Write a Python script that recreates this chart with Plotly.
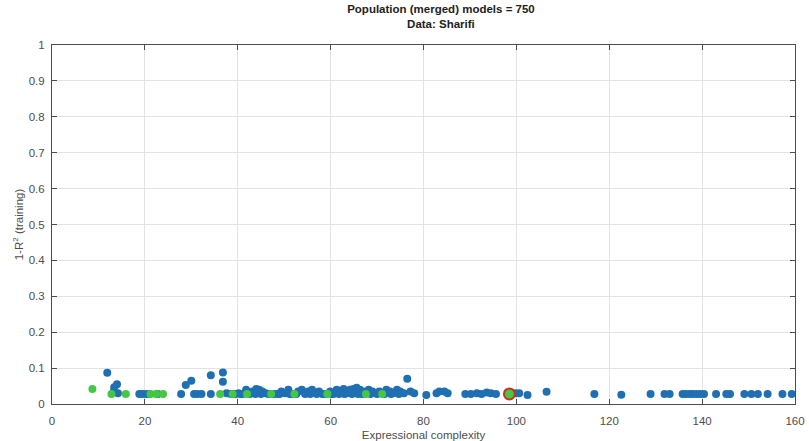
import plotly.graph_objects as go

# Population models: expressional complexity vs 1-R^2 (training)
blue_x = [11.9, 13.3, 13.4, 14.0, 14.2, 18.8, 19.5, 20.3, 21.0, 22.8,
          27.8, 28.8, 30.0, 30.6, 31.3, 32.2, 34.2, 34.2, 36.8, 36.8, 37.6,
          38.5, 39.5, 40.2, 41.0, 41.8, 42.6, 43.2, 44.0, 44.6, 45.3, 46.0,
          47.8, 48.6, 49.4, 50.2, 50.9, 51.6, 53.0, 53.8, 54.5, 55.2, 56.0,
          56.8, 57.5, 58.2, 59.9, 60.6, 61.3, 62.0, 62.8, 63.5, 64.2, 64.9,
          65.6, 66.3, 67.0, 68.2, 69.0, 69.8, 70.5, 72.0, 72.8, 73.5, 74.3,
          75.0, 75.8, 76.5, 77.2, 78.0,
          39.0, 40.6, 43.8, 45.0, 46.6, 49.0, 51.2, 52.6, 55.6, 57.0, 58.8,
          60.2, 61.8, 63.0, 64.6, 65.9, 66.8, 68.6, 70.0, 71.6, 73.0, 74.7,
          80.6, 82.8, 83.4, 84.5, 85.2, 89.0, 90.2, 91.5, 92.5, 93.6, 94.5,
          95.6, 99.8, 100.6, 102.4, 106.5, 116.8, 122.6, 128.9, 131.9, 133.0,
          135.8, 136.5, 137.3, 138.0, 138.8, 139.6, 140.4, 143.0, 145.2,
          146.0, 149.1, 150.6, 152.0, 154.1, 157.3, 159.3]
blue_y = [0.087, 0.035, 0.047, 0.055, 0.030, 0.028, 0.028, 0.028, 0.028, 0.028,
          0.028, 0.053, 0.065, 0.028, 0.028, 0.028, 0.080, 0.028, 0.088, 0.062, 0.030,
          0.028, 0.028, 0.030, 0.028, 0.040, 0.028, 0.035, 0.042, 0.040, 0.035, 0.030,
          0.028, 0.028, 0.035, 0.030, 0.040, 0.028, 0.035, 0.040, 0.028, 0.035, 0.040,
          0.030, 0.035, 0.028, 0.035, 0.028, 0.040, 0.035, 0.042, 0.030, 0.040, 0.042,
          0.045, 0.040, 0.035, 0.040, 0.035, 0.030, 0.035, 0.040, 0.035, 0.030, 0.040,
          0.035, 0.030, 0.070, 0.035, 0.030,
          0.028, 0.028, 0.028, 0.028, 0.028, 0.028, 0.028, 0.028, 0.028, 0.028, 0.028,
          0.028, 0.028, 0.028, 0.028, 0.028, 0.028, 0.028, 0.028, 0.028, 0.028, 0.028,
          0.025, 0.030, 0.035, 0.035, 0.030, 0.028, 0.028, 0.030, 0.028, 0.032, 0.030,
          0.028, 0.030, 0.030, 0.025, 0.034, 0.028, 0.026, 0.028, 0.028, 0.028,
          0.028, 0.028, 0.028, 0.028, 0.028, 0.028, 0.028, 0.028, 0.028,
          0.028, 0.028, 0.028, 0.028, 0.028, 0.028, 0.028]

green_x = [8.7, 12.8, 15.9, 21.2, 22.4, 23.9, 36.2, 38.9, 42.0, 47.2,
           52.2, 59.3, 67.6, 71.1]
green_y = [0.042, 0.028, 0.028, 0.028, 0.028, 0.028, 0.028, 0.028, 0.028,
           0.028, 0.028, 0.028, 0.028, 0.028]

best_x = [98.5]
best_y = [0.028]

x_ticks = [0, 20, 40, 60, 80, 100, 120, 140, 160]
y_ticks = [0, 0.1, 0.2, 0.3, 0.4, 0.5, 0.6, 0.7, 0.8, 0.9, 1]
y_tick_text = ["0", "0.1", "0.2", "0.3", "0.4", "0.5", "0.6", "0.7", "0.8", "0.9", "1"]

BLUE = "#1f6fb2"
GREEN = "#44c744"
RED = "#c8321f"
FONT = "Liberation Sans, Arial, sans-serif"

fig = go.Figure()
fig.add_trace(go.Scatter(x=blue_x, y=blue_y, mode="markers",
                         marker=dict(color=BLUE, size=8, line=dict(width=0)),
                         showlegend=False, cliponaxis=False))
fig.add_trace(go.Scatter(x=green_x, y=green_y, mode="markers",
                         marker=dict(color=GREEN, size=8, line=dict(width=0)),
                         showlegend=False, cliponaxis=False))
fig.add_trace(go.Scatter(x=best_x, y=best_y, mode="markers",
                         marker=dict(color=GREEN, size=11, line=dict(color=RED, width=2)),
                         showlegend=False, cliponaxis=False))

axis_common = dict(
    automargin=False,
    showline=True, linecolor="#4d4d4d", linewidth=1, mirror="allticks",
    ticks="inside", ticklen=5, tickcolor="#4d4d4d",
    showgrid=True, gridcolor="#e3e3e3", gridwidth=1, zeroline=False,
    tickfont=dict(family=FONT, size=11.5, color="#4d4d4d"),
)

fig.update_layout(
    width=809, height=441,
    margin=dict(l=52, r=14, t=45, b=37, autoexpand=False),
    paper_bgcolor="white", plot_bgcolor="white",
    title=dict(
        text="<b>Population (merged) models = 750</b><br><b>Data: Sharifi</b>",
        x=0.5235, xanchor="center", xref="paper",
        y=0.97, yanchor="middle", yref="container",
        font=dict(family=FONT, size=11.5, color="#222222"),
    ),
    xaxis=dict(range=[0, 160], tickvals=x_ticks, ticklabelstandoff=6,
               title=dict(text="Expressional complexity", standoff=9,
                          font=dict(family=FONT, size=11.5, color="#4d4d4d")),
               **axis_common),
    yaxis=dict(range=[0, 1], tickvals=y_ticks, ticktext=y_tick_text,
               ticklabelstandoff=4,
               title=dict(text="1-R<sup>2</sup> (training)", standoff=2,
                          font=dict(family=FONT, size=11.5, color="#4d4d4d")),
               **axis_common),
)

fig.write_html("out.html")
